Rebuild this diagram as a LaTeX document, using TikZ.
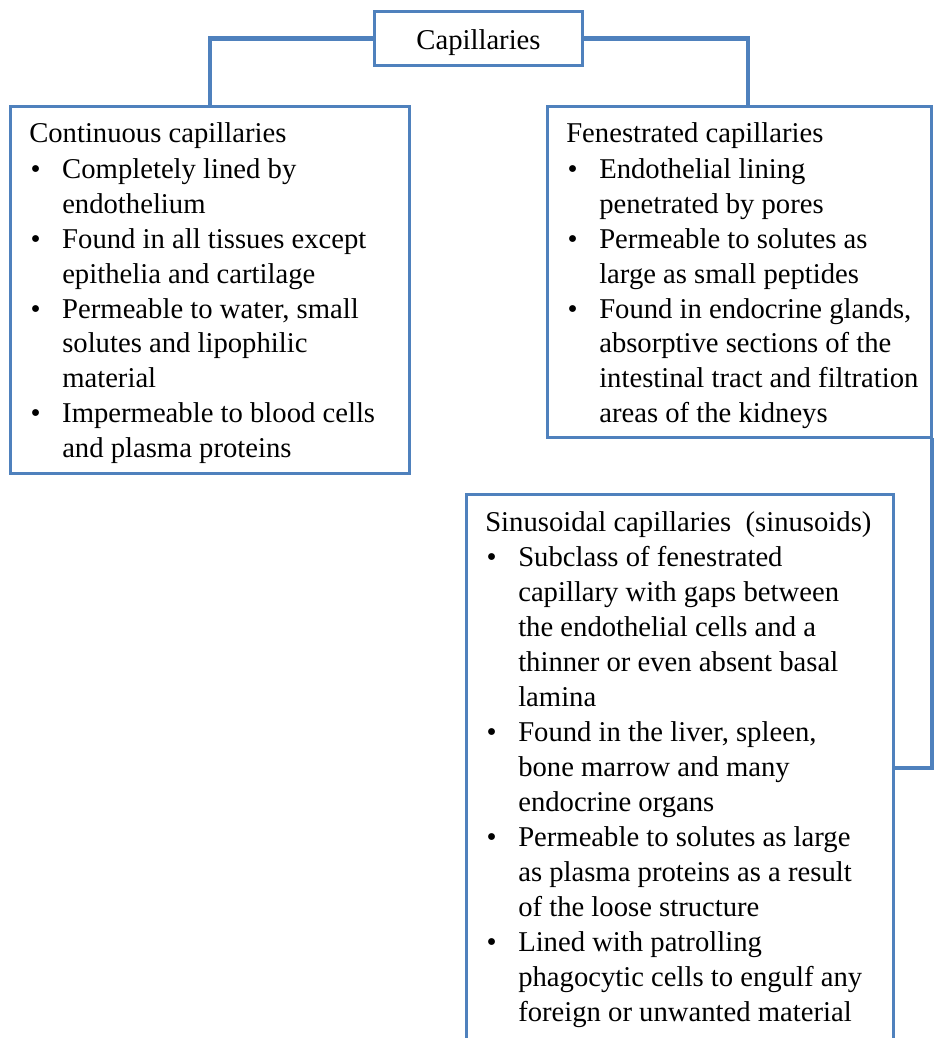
\documentclass[tikz,border=0pt]{standalone}
\usepackage{fontspec}
\setmainfont{Liberation Serif}
\definecolor{ob}{HTML}{4F81BD}
\newcommand{\bul}{\makebox[24.75pt][l]{\hspace{1pt}\textbullet}}
\newcommand{\ind}{\hspace*{24.75pt}}
\begin{document}
\begin{tikzpicture}[x=0.75pt,y=-0.75pt,
  box/.style={draw=ob, line width=1.3pt, fill=white, inner sep=0pt, rectangle},
  outline/.style={draw=ob, line width=1.3pt},
  conn/.style={draw=ob, line width=3.4pt},
  txt/.style={inner sep=0pt, anchor=base west, font=\fontsize{21.5}{26.25}\selectfont}]
\clip (0,0) rectangle (934,1038);
\fill[white] (0,0) rectangle (934,1038);
% boxes (positions)
\node[box, minimum width=155.25pt, minimum height=39.75pt, font=\fontsize{21.5}{26.25}\selectfont] (cap) at (478.5,38.5) {\raisebox{-3pt}[\height][\depth]{Capillaries}};
\node[box, minimum width=298.5pt, minimum height=274.5pt] (cont) at (210,290) {};
\node[box, minimum width=287.25pt, minimum height=247.5pt] (fen) at (739.5,272) {};
\node[box, minimum width=319.5pt, minimum height=409.5pt] (sin) at (680,768) {};
% connectors
\draw[conn] (cap.west) -| (cont.north);
\draw[conn] (cap.east) -| ([xshift=6.375pt]fen.north);
\draw[conn] (fen.south east) |- (sin.east);
% redraw box outlines on top
\draw[outline] (cap.north west) rectangle (cap.south east);
\draw[outline] (cont.north west) rectangle (cont.south east);
\draw[outline] (fen.north west) rectangle (fen.south east);
\draw[outline] (sin.north west) rectangle (sin.south east);
% texts
\node[txt] (conttxt) at (29,143) {\begin{tabular}[t]{@{}l@{}}
Continuous capillaries\\
\bul Completely lined by\\
\ind endothelium\\
\bul Found in all tissues except\\
\ind epithelia and cartilage\\
\bul Permeable to water, small\\
\ind solutes and lipophilic\\
\ind material\\
\bul Impermeable to blood cells\\
\ind and plasma proteins
\end{tabular}};
\node[txt] (fentxt) at (566,143) {\begin{tabular}[t]{@{}l@{}}
Fenestrated capillaries\\
\bul Endothelial lining\\
\ind penetrated by pores\\
\bul Permeable to solutes as\\
\ind large as small peptides\\
\bul Found in endocrine glands,\\
\ind absorptive sections of the\\
\ind intestinal tract and filtration\\
\ind areas of the kidneys
\end{tabular}};
\node[txt] (sintxt) at (485,531) {\begin{tabular}[t]{@{}l@{}}
Sinusoidal capillaries\ \ (sinusoids)\\
\bul Subclass of fenestrated\\
\ind capillary with gaps between\\
\ind the endothelial cells and a\\
\ind thinner or even absent basal\\
\ind lamina\\
\bul Found in the liver, spleen,\\
\ind bone marrow and many\\
\ind endocrine organs\\
\bul Permeable to solutes as large\\
\ind as plasma proteins as a result\\
\ind of the loose structure\\
\bul Lined with patrolling\\
\ind phagocytic cells to engulf any\\
\ind foreign or unwanted material
\end{tabular}};
\end{tikzpicture}
\end{document}
